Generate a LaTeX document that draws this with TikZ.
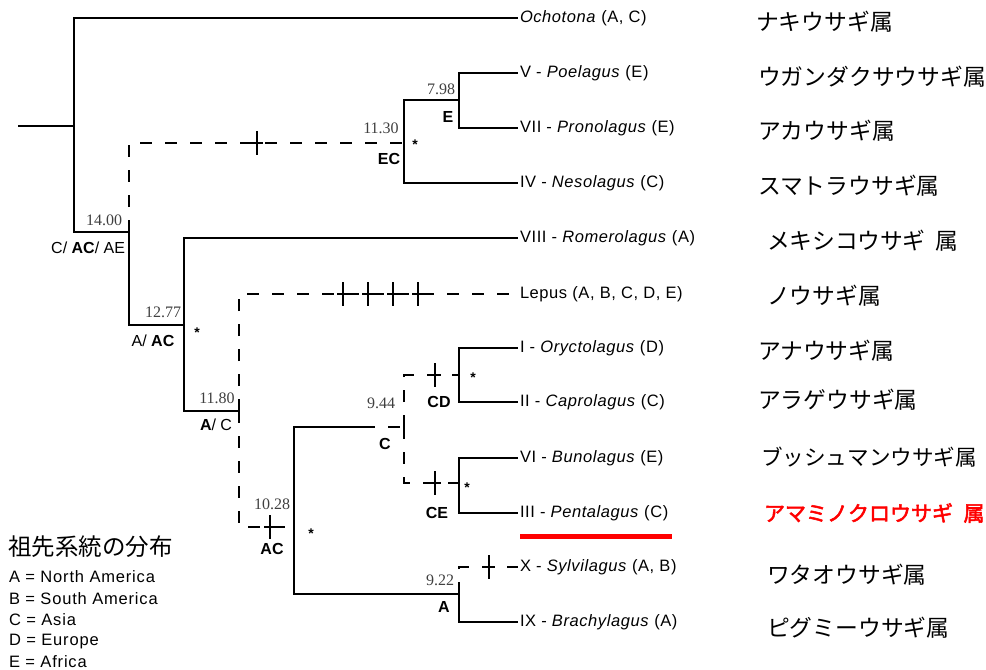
\documentclass[tikz,border=0pt]{standalone}
\usepackage{fontspec}
\setmainfont{Liberation Serif}
\setsansfont{Liberation Sans}
\newfontfamily\keyfont{Liberation Sans}[LetterSpace=5]
\newfontfamily\taxfont{Liberation Sans}[LetterSpace=3.5]
\newfontfamily\jpfont{Noto Sans CJK JP}
\newfontfamily\jpbold{Noto Sans CJK JP}[FakeBold=2.5]
\usetikzlibrary{positioning}

\begin{document}
\begin{tikzpicture}[x=1bp,y=-1bp,line width=2bp,
    taxon/.style={anchor=west,inner sep=1bp,font=\taxfont\fontsize{16.5bp}{18bp}\selectfont},
    genus/.style={anchor=west,inner sep=0pt,font=\jpfont\fontsize{22.8bp}{24bp}\selectfont},
    age/.style={inner sep=0pt,text=black!75,font=\rmfamily\fontsize{16bp}{18bp}\selectfont},
    area/.style={inner sep=0pt,font=\sffamily\fontsize{16bp}{18bp}\selectfont},
    star/.style={inner sep=0pt,font=\sffamily\bfseries\fontsize{14bp}{14bp}\selectfont},
    key/.style={anchor=west,inner sep=0pt,font=\keyfont\fontsize{16.5bp}{20bp}\selectfont},
    lost/.style={dash pattern=on 12bp off 13bp},
    cross/.style={line width=2.2bp}]
  \useasboundingbox (0,0) rectangle (986,670);

  % branching points
  \coordinate (stub) at (18,126);
  \coordinate (root) at (74,126);
  \coordinate (n14) at (129,232);
  \coordinate (nEC) at (404,143);
  \coordinate (nE) at (459,100);
  \coordinate (n1277) at (184,325);
  \coordinate (n1180) at (239,411);
  \coordinate (n1028) at (294,527);
  \coordinate (split) at (363,427);
  \coordinate (n944) at (404,427);
  \coordinate (nCD) at (459,375);
  \coordinate (nCE) at (459,483);
  \coordinate (n922) at (459,594);

  % genera
  \node[taxon] (ochot) at (518,18) {\textit{Ochotona} (A, C)};
  \node[taxon] (poe) at (518,73) {V - \textit{Poelagus} (E)};
  \node[taxon] (pro) at (518,128) {VII - \textit{Pronolagus} (E)};
  \node[taxon] (neso) at (518,183) {IV - \textit{Nesolagus} (C)};
  \node[taxon] (rome) at (518,238) {VIII - \textit{Romerolagus} (A)};
  \node[taxon] (lepus) at (518,294) {Lepus (A, B, C, D, E)};
  \node[taxon] (oryc) at (518,348) {I - \textit{Oryctolagus} (D)};
  \node[taxon] (capr) at (518,402) {II - \textit{Caprolagus} (C)};
  \node[taxon] (buno) at (518,458) {VI - \textit{Bunolagus} (E)};
  \node[taxon] (pent) at (518,513) {III - \textit{Pentalagus} (C)};
  \node[taxon] (sylv) at (518,567) {X - \textit{Sylvilagus} (A, B)};
  \node[taxon] (brach) at (518,622) {IX - \textit{Brachylagus} (A)};

  % tree
  \draw (stub) -- (root);
  \draw (root) |- (ochot.west);
  \draw (root) |- (n14);
  \draw[lost] (n14) |- (nEC);
  \draw (nEC) |- (nE);
  \draw (nEC) |- (neso.west);
  \draw (nE) |- (poe.west);
  \draw (nE) |- (pro.west);
  \draw (n14) |- (n1277);
  \draw (n1277) |- (rome.west);
  \draw (n1277) |- (n1180);
  \draw[lost] (n1180) |- (lepus.west);
  \draw[lost] (n1180) |- (n1028);
  \draw (n1028) |- (split);
  \draw[lost] (split) -- (n944);
  \draw[lost] (n944) |- (nCD);
  \draw[lost] (n944) |- (nCE);
  \draw (nCD) |- (oryc.west);
  \draw (nCD) |- (capr.west);
  \draw (nCE) |- (buno.west);
  \draw (nCE) |- (pent.west);
  \draw (n1028) |- (n922);
  \draw[lost] (n922) |- (sylv.west);
  \draw (n922) |- (brach.west);

  % dispersal marks
  \foreach \x/\y in {257/143,343/294,368/294,393/294,418/294,270/527,435/375,435/483,489/567}
    \draw[cross] (\x,\y-12) -- (\x,\y+12) (\x-6,\y) -- (\x+6,\y);

  % ages and ancestral areas
  \node[age] (a14) at (104,220) {14.00};
  \node[area,anchor=east] (r14) at (126,248) {C/ \textbf{AC}/ AE};
  \node[age] (a1130) at (381,128) {11.30};
  \node[star] (s1130) at (415,145) {*};
  \node[area] (rEC) at (389,159) {\textbf{EC}};
  \node[age] (a798) at (441,89) {7.98};
  \node[area] (rE) at (448,117) {\textbf{E}};
  \node[age] (a1277) at (163,312) {12.77};
  \node[star] (s1277) at (197,333) {*};
  \node[area] (r1277) at (153,341) {A/ \textbf{AC}};
  \node[age] (a1180) at (217,398) {11.80};
  \node[area] (r1180) at (216,425) {\textbf{A}/ C};
  \node[age] (a944) at (381,403) {9.44};
  \node[area] (rC) at (385,444) {\textbf{C}};
  \node[area] (rCD) at (439,402) {\textbf{CD}};
  \node[star] (sCD) at (473,378) {*};
  \node[area] (rCE) at (437,513) {\textbf{CE}};
  \node[star] (sCE) at (467,488) {*};
  \node[age] (a1028) at (272,504) {10.28};
  \node[area] (rAC) at (272,549) {\textbf{AC}};
  \node[star] (s1028) at (311,534) {*};
  \node[age] (a922) at (440,580) {9.22};
  \node[area] (rA) at (444,607) {\textbf{A}};

  % highlight
  \coordinate (ulA) at (520,536);
  \coordinate (ulB) at (672,536);
  \draw[red,line width=5bp] (ulA) -- (ulB);

  % Japanese names
  \node[genus] (jOch) at (755,22) {ナキウサギ属};
  \node[genus] (jPoe) at (757,77) {ウガンダクサウサギ属};
  \node[genus] (jPro) at (757,131) {アカウサギ属};
  \node[genus] (jNes) at (757,186) {スマトラウサギ属};
  \node[genus] (jRom) at (766,241) {メキシコウサギ\hspace{0.45em}属};
  \node[genus] (jLep) at (766,296) {ノウサギ属};
  \node[genus] (jOry) at (757,351) {アナウサギ属};
  \node[genus] (jCap) at (757,400) {アラゲウサギ属};
  \node[genus,font=\jpfont\fontsize{21.6bp}{24bp}\selectfont] (jBun) at (760,457) {ブッシュマンウサギ属};
  \node[genus,text=red,font=\jpbold\fontsize{21bp}{24bp}\selectfont] (jPen) at (763,513) {アマミノクロウサギ\hspace{0.5em}属};
  \node[genus] (jSyl) at (766,575) {ワタオウサギ属};
  \node[genus] (jBra) at (766,628) {ピグミーウサギ属};

  % legend
  \node[genus,font=\jpfont\fontsize{23.5bp}{25bp}\selectfont] (ktitle) at (7,547) {祖先系統の分布};
  \node[key] (kA) at (8,577) {A = North America};
  \node[key] (kB) at (8,599) {B = South America};
  \node[key] (kC) at (8,620) {C = Asia};
  \node[key] (kD) at (8,642) {D = Europe};
  \node[key] (kE) at (8,662) {E = Africa};
\end{tikzpicture}
\end{document}
